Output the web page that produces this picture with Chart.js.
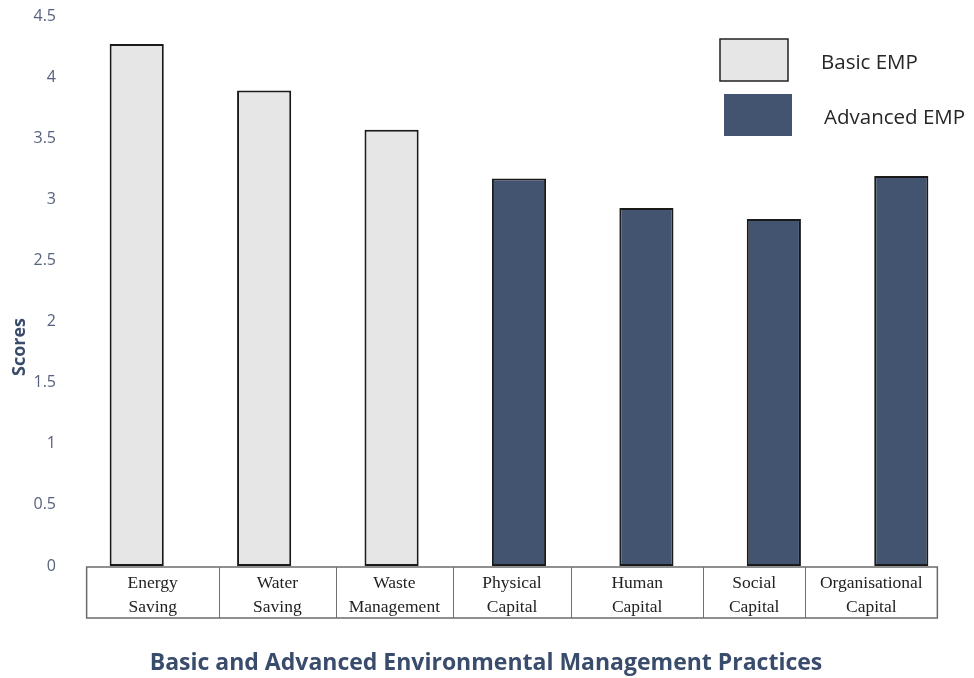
<!DOCTYPE html>
<html>
<head>
<meta charset="utf-8">
<script src="https://cdn.jsdelivr.net/npm/chart.js@4.4.1/dist/chart.umd.min.js"></script>
<style>
  html, body { margin: 0; padding: 0; background: #ffffff; }
  #wrap { width: 974px; height: 678px; position: relative; }
</style>
</head>
<body>
<div id="wrap"><canvas id="c"></canvas></div>
<script>
const categories = [
  ["Energy", "Saving"],
  ["Water", "Saving"],
  ["Waste", "Management"],
  ["Physical", "Capital"],
  ["Human", "Capital"],
  ["Social", "Capital"],
  ["Organisational", "Capital"]
];
const basicEMP = [4.27, 3.89, 3.57, null, null, null, null];
const advancedEMP = [null, null, null, 3.17, 2.93, 2.84, 3.19];
const seriesNames = ["Basic EMP", "Advanced EMP"];
const yTicks = [0, 0.5, 1, 1.5, 2, 2.5, 3, 3.5, 4, 4.5];
const yTitle = "Scores";
const xTitle = "Basic and Advanced Environmental Management Practices";

// layout: table cell edges expressed in category-scale units
const cellEdges = [-0.393, 0.644, 1.563, 2.48, 3.41, 4.445, 5.246, 6.283];

const lightFill = "#e6e6e6";
const darkFill = "#435470";
const textBlue = "#56627e";
const titleBlue = "#3a4c6c";

const tablePlugin = {
  id: "tablePlugin",
  afterDraw(chart) {
    const ctx = chart.ctx;
    const x = chart.scales.x;
    const area = chart.chartArea;
    const top = area.bottom + 1;
    const bottom = area.bottom + 52;
    const edges = cellEdges.map(v => x.getPixelForValue(v));
    ctx.save();
    ctx.strokeStyle = "#6b6b6b";
    ctx.lineWidth = 1.5;
    ctx.strokeRect(edges[0], top, edges[edges.length - 1] - edges[0], bottom - top);
    ctx.lineWidth = 1;
    ctx.strokeStyle = "#707070";
    for (let i = 1; i < edges.length - 1; i++) {
      const px = Math.round(edges[i]) + 0.5;
      ctx.beginPath();
      ctx.moveTo(px, top);
      ctx.lineTo(px, bottom);
      ctx.stroke();
    }
    // category labels
    ctx.fillStyle = "#222";
    ctx.font = "17.5px 'Liberation Serif', 'Times New Roman', serif";
    ctx.textAlign = "center";
    ctx.textBaseline = "middle";
    categories.forEach((lines, i) => {
      const cx = (edges[i] + edges[i + 1]) / 2;
      lines.forEach((t, j) => ctx.fillText(t, cx, area.bottom + 17 + j * 24));
    });
    // legend
    ctx.lineWidth = 1.5;
    ctx.fillStyle = lightFill;
    ctx.fillRect(720, 39, 68, 42);
    ctx.strokeStyle = "#222";
    ctx.strokeRect(720, 39, 68, 42);
    ctx.fillStyle = darkFill;
    ctx.fillRect(724, 94, 68, 42);
    ctx.fillStyle = "#262626";
    ctx.font = "20.5px 'Open Sans', Lato, sans-serif";
    ctx.textAlign = "left";
    ctx.fillText(seriesNames[0], 821, 63);
    ctx.fillText(seriesNames[1], 824, 118);
    // axis titles
    ctx.fillStyle = titleBlue;
    ctx.font = "bold 23px 'Open Sans', Lato, sans-serif";
    ctx.textAlign = "center";
    ctx.fillText(xTitle, 486, 663);
    ctx.save();
    ctx.translate(20, 347);
    ctx.rotate(-Math.PI / 2);
    ctx.font = "bold 18px 'Open Sans', Lato, sans-serif";
    ctx.fillText(yTitle, 0, 0);
    ctx.restore();
    ctx.restore();
  }
};

new Chart(document.getElementById("c"), {
  type: "bar",
  data: {
    labels: categories,
    datasets: [
      {
        label: seriesNames[0],
        data: basicEMP,
        backgroundColor: lightFill,
        borderColor: "#1a1a1a",
        borderWidth: 2,
        borderSkipped: false,
        grouped: false,
        categoryPercentage: 1,
        barPercentage: 0.425
      },
      {
        label: seriesNames[1],
        data: advancedEMP,
        backgroundColor: darkFill,
        borderColor: "#1a1a1a",
        borderWidth: 2,
        borderSkipped: false,
        grouped: false,
        categoryPercentage: 1,
        barPercentage: 0.425
      }
    ]
  },
  options: {
    responsive: true,
    maintainAspectRatio: false,
    animation: false,
    layout: { padding: { top: 16, right: 9, left: 0, bottom: 0 } },
    plugins: {
      legend: { display: false },
      tooltip: { enabled: false }
    },
    scales: {
      x: {
        grid: { display: false, drawTicks: false },
        border: { display: false },
        ticks: { display: false },
        afterFit(scale) { scale.height = 112; }
      },
      y: {
        min: 0,
        max: 4.5,
        grid: { display: false, drawTicks: false },
        border: { display: false },
        afterBuildTicks(scale) { scale.ticks = yTicks.map(v => ({ value: v })); },
        ticks: {
          color: textBlue,
          font: { family: "'Open Sans', Lato, sans-serif", size: 16, lineHeight: 0.5 },
          padding: 17,
          callback: v => String(v)
        },
        afterFit(scale) {
          scale.width = 73;
          scale.paddingTop = 0;
          scale.paddingBottom = 0;
        }
      }
    }
  },
  plugins: [tablePlugin]
});
</script>
</body>
</html>
